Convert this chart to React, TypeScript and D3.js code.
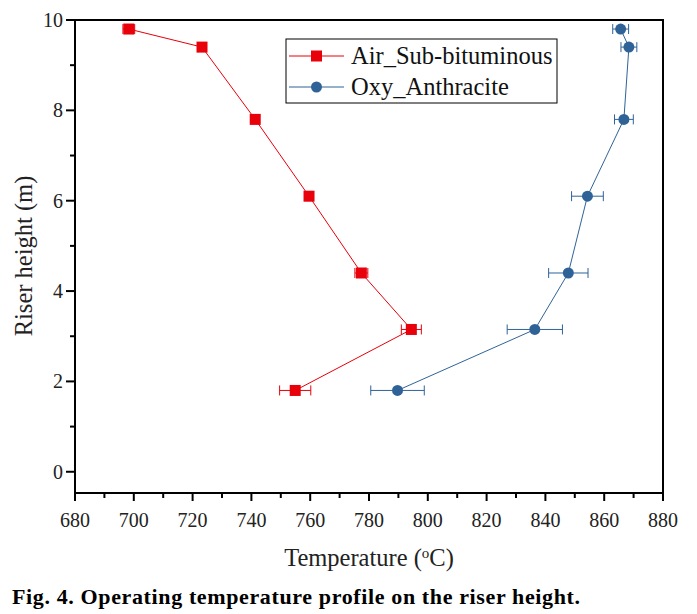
import React from "react";
import * as d3 from "d3";

const heights = [9.8, 9.4, 7.8, 6.1, 4.4, 3.15, 1.8];
const airTemp = [698.3, 723.2, 741.3, 759.6, 777.4, 794.4, 754.9];
const airErr = [2, 1.2, 0.5, 0.5, 2.2, 3.4, 5.3];
const oxyTemp = [865.6, 868.4, 866.7, 854.3, 847.8, 836.4, 789.7];
const oxyErr = [2.7, 2.7, 3.2, 5.4, 6.7, 9.4, 9.1];
const xTicks = [680, 700, 720, 740, 760, 780, 800, 820, 840, 860, 880];
const yTicks = [0, 2, 4, 6, 8, 10];
const seriesNames = ["Air_Sub-bituminous", "Oxy_Anthracite"];

const RED = "#e8000b";
const BLUE = "#2f6397";
const FONT = "'Liberation Serif', 'Times New Roman', serif";

export default function App() {
  const left = 75, right = 663, top = 20, bottom = 493;
  const x = d3.scaleLinear().domain([680, 880]).range([left, right]);
  const y = d3.scaleLinear().domain([-0.47, 10]).range([bottom, top]);
  const line = d3.line<[number, number]>().x(d => x(d[0])).y(d => y(d[1]));
  const air = airTemp.map((t, i) => [t, heights[i]] as [number, number]);
  const oxy = oxyTemp.map((t, i) => [t, heights[i]] as [number, number]);
  const xMinor = d3.range(690, 880, 20);
  const yMinor = [1, 3, 5, 7, 9];

  const errBars = (pts: [number, number][], errs: number[], color: string) =>
    pts.map((p, i) => {
      const x0 = x(p[0] - errs[i]), x1 = x(p[0] + errs[i]), yy = y(p[1]);
      return (
        <g key={i} stroke={color} strokeWidth={1}>
          <line x1={x0} x2={x1} y1={yy} y2={yy} />
          <line x1={x0} x2={x0} y1={yy - 5} y2={yy + 5} />
          <line x1={x1} x2={x1} y1={yy - 5} y2={yy + 5} />
        </g>
      );
    });

  return (
    <svg width={697} height={614} style={{ position: "absolute", left: 0, top: 0, background: "#fff" }} fontFamily={FONT}>
      {xTicks.map(t => (
        <g key={"xt" + t}>
          <line x1={x(t)} x2={x(t)} y1={bottom} y2={bottom + 8} stroke="#000" strokeWidth={2} />
          <text x={x(t)} y={527} textAnchor="middle" fontSize={20} fill="#222">{t}</text>
        </g>
      ))}
      {xMinor.map(t => (
        <line key={"xm" + t} x1={x(t)} x2={x(t)} y1={bottom} y2={bottom + 5} stroke="#000" strokeWidth={2} />
      ))}
      {yTicks.map(t => (
        <g key={"yt" + t}>
          <line x1={left - 9} x2={left} y1={y(t)} y2={y(t)} stroke="#000" strokeWidth={2} />
          <text x={63} y={y(t) + 7} textAnchor="end" fontSize={20} fill="#222">{t}</text>
        </g>
      ))}
      {yMinor.map(t => (
        <line key={"ym" + t} x1={left - 5} x2={left} y1={y(t)} y2={y(t)} stroke="#000" strokeWidth={2} />
      ))}
      <rect x={left} y={top} width={right - left} height={bottom - top} fill="none" stroke="#000" strokeWidth={2} />

      <path d={line(air) || ""} fill="none" stroke={RED} strokeWidth={1} />
      {errBars(air, airErr, RED)}
      {air.map((p, i) => (
        <rect key={"a" + i} x={x(p[0]) - 5.5} y={y(p[1]) - 5.5} width={11} height={11} fill={RED} />
      ))}
      <path d={line(oxy) || ""} fill="none" stroke={BLUE} strokeWidth={1} />
      {errBars(oxy, oxyErr, BLUE)}
      {oxy.map((p, i) => (
        <circle key={"o" + i} cx={x(p[0])} cy={y(p[1])} r={5.5} fill={BLUE} />
      ))}

      <rect x={286} y={39} width={271} height={64} fill="#fff" stroke="#000" strokeWidth={1} />
      <line x1={289} x2={344} y1={56} y2={56} stroke={RED} strokeWidth={1} />
      <rect x={311} y={50.5} width={11} height={11} fill={RED} />
      <text x={351} y={64} fontSize={24.5} fill="#111">{seriesNames[0]}</text>
      <line x1={289} x2={344} y1={87} y2={87} stroke={BLUE} strokeWidth={1} />
      <circle cx={316.5} cy={87} r={5.5} fill={BLUE} />
      <text x={351} y={95} fontSize={24.5} fill="#111">{seriesNames[1]}</text>

      <text x={369} y={566} textAnchor="middle" fontSize={24.5} fill="#222">
        Temperature (<tspan dy={-8} fontSize={15}>o</tspan><tspan dy={8}>C)</tspan>
      </text>
      <text transform="translate(32,256) rotate(-90)" textAnchor="middle" fontSize={24.5} fill="#222">Riser height (m)</text>
      <text x={12} y={604} fontSize={22} fontWeight="bold" fill="#000" textLength={568} lengthAdjust="spacing">Fig. 4. Operating temperature profile on the riser height.</text>
    </svg>
  );
}
